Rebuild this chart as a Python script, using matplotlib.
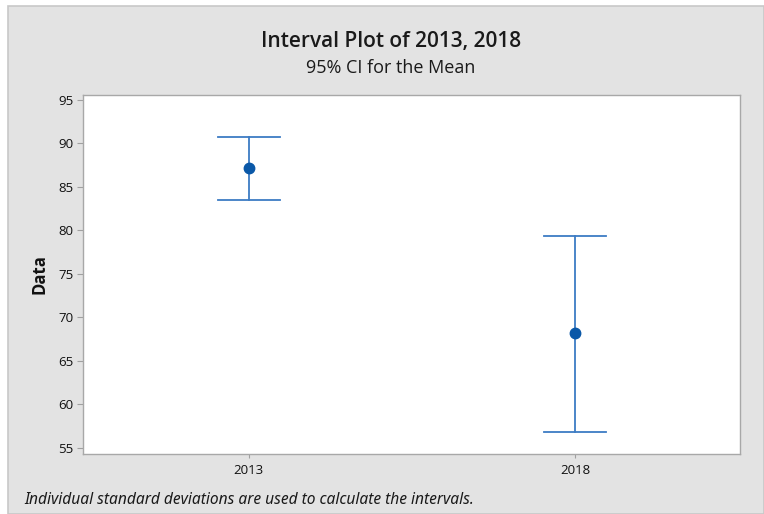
import matplotlib
matplotlib.use("Agg")
import matplotlib.pyplot as plt
from matplotlib.patches import Rectangle

# Interval plot data: means and 95% confidence limits
categories = ["2013", "2018"]
means = [87.2, 68.2]
ci_lower = [83.5, 56.8]
ci_upper = [90.7, 79.4]

plt.rcParams["font.family"] = ["Open Sans", "DejaVu Sans"]

fig = plt.figure(figsize=(7.64, 5.14), dpi=100, facecolor="white")

# gray panel with a thin border
panel = Rectangle((8 / 764, 0), 1 - 8 / 764, 1 - 6 / 514, transform=fig.transFigure,
                  facecolor="#e3e3e3", edgecolor="#c8c8c8", linewidth=1.2, zorder=-10)
fig.patches.append(panel)

ax = fig.add_axes([83 / 764, 1 - 454 / 514, (740 - 83) / 764, (454 - 95) / 514])
ax.set_facecolor("white")

x = list(range(1, len(categories) + 1))
line_color = "#3d7cc4"
for xi, m, lo, hi in zip(x, means, ci_lower, ci_upper):
    ax.plot([xi, xi], [lo, hi], color=line_color, lw=1.3, zorder=2)
    for y in (lo, hi):
        ax.plot([xi - 0.095, xi + 0.095], [y, y], color=line_color, lw=1.3, zorder=2)
ax.plot(x, means, "o", color="#0a58a8", markersize=7.5, zorder=3)

ax.set_xlim(0.492, 2.505)
ax.set_ylim(54.31, 95.57)
ax.set_xticks(x)
ax.set_xticklabels(categories)
ax.set_yticks(range(55, 96, 5))

for s in ax.spines.values():
    s.set_color("#a8a8a8")
    s.set_linewidth(1.0)
ax.tick_params(axis="both", colors="#a0a0a0", labelcolor="#111111", labelsize=9.5,
               width=0.8, direction="out")
ax.tick_params(axis="y", length=4, pad=3)
ax.tick_params(axis="x", length=3, pad=4)

ax.set_ylabel("Data", fontsize=12, fontweight="bold", color="#111111", labelpad=7)

fig.text(0.512, 1 - 42 / 514, "Interval Plot of 2013, 2018", ha="center", va="center",
         fontsize=15, fontweight="semibold", color="#1a1a1a")
fig.text(0.512, 1 - 68 / 514, "95% CI for the Mean", ha="center", va="center",
         fontsize=13, color="#1a1a1a")
fig.text(24 / 764, 1 - 500 / 514, "Individual standard deviations are used to calculate the intervals.",
         ha="left", va="center", fontsize=11.2, style="italic", color="#1a1a1a",
         family=["Noto Sans", "DejaVu Sans"])

fig.savefig("out.png", dpi=100, facecolor=fig.get_facecolor())
